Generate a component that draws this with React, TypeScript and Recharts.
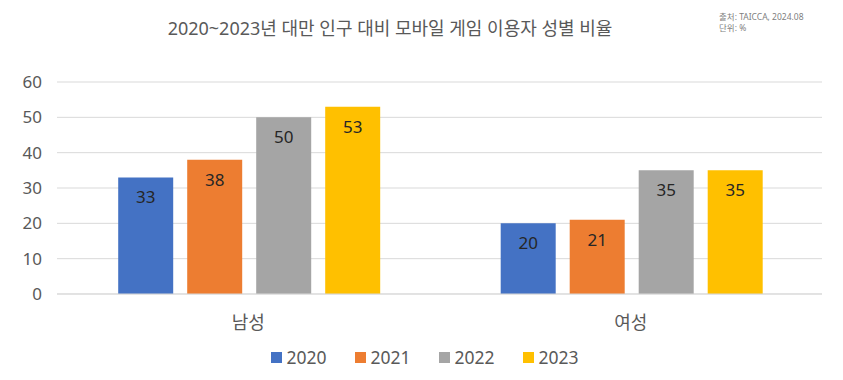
import { Bar, BarChart, CartesianGrid, LabelList, Legend, XAxis, YAxis } from "recharts";

const categories = ["남성", "여성"];
const years = ["2020", "2021", "2022", "2023"];
const v2020 = [33, 20];
const v2021 = [38, 21];
const v2022 = [50, 35];
const v2023 = [53, 35];
const yTicks = [0, 10, 20, 30, 40, 50, 60];

const COLORS = ["#4472C4", "#ED7D31", "#A5A5A5", "#FFC000"];
const FONT = "'Noto Sans', 'Noto Sans CJK KR', sans-serif";

const data = categories.map((name, i) => ({
  name,
  "2020": v2020[i],
  "2021": v2021[i],
  "2022": v2022[i],
  "2023": v2023[i],
}));

function LegendContent() {
  return (
    <div style={{ display: "flex", justifyContent: "center", marginLeft: 34 }}>
      {years.map((y, i) => (
        <div key={y} style={{ display: "flex", alignItems: "center", width: 84 }}>
          <span style={{ width: 11, height: 11, background: COLORS[i], marginRight: 5 }} />
          <span style={{ fontSize: 17.5, color: "#595959", fontFamily: FONT }}>{y}</span>
        </div>
      ))}
    </div>
  );
}

export default function App() {
  return (
    <div style={{ position: "absolute", left: 0, top: 0, width: 843, height: 380, background: "#fff", fontFamily: FONT }}>
      <div style={{ position: "absolute", top: 14, left: 0, width: 780, textAlign: "center", fontSize: 18, color: "#595959" }}>
        2020~2023년 대만 인구 대비 모바일 게임 이용자 성별 비율
      </div>
      <div style={{ position: "absolute", top: 11, left: 719, fontSize: 8.5, lineHeight: "11px", color: "#808080" }}>
        <div>출처: TAICCA, 2024.08</div>
        <div>단위: %</div>
      </div>
      <BarChart
        width={843}
        height={380}
        data={data}
        margin={{ top: 82, right: 21, left: 0, bottom: 0 }}
        barCategoryGap="16%"
        barGap={14}
      >
        <CartesianGrid vertical={false} stroke="#D9D9D9" />
        <XAxis
          dataKey="name"
          axisLine={{ stroke: "#D9D9D9" }}
          tickLine={false}
          tickSize={0}
          tickMargin={22}
          height={46}
          tick={{ fontSize: 18, fill: "#595959", fontFamily: FONT }}
        />
        <YAxis
          domain={[0, 60]}
          ticks={yTicks}
          axisLine={false}
          tickLine={false}
          tickSize={0}
          tickMargin={15}
          width={57}
          tick={{ fontSize: 17, fill: "#595959", fontFamily: FONT }}
        />
        <Legend verticalAlign="bottom" height={40} content={LegendContent} wrapperStyle={{ top: 345, left: 0, width: 843 }} />
        {years.map((y, i) => (
          <Bar key={y} dataKey={y} fill={COLORS[i]} isAnimationActive={false}>
            <LabelList dataKey={y} position="insideTop" offset={14} fill="#262626" fontSize={17} fontFamily={FONT} />
          </Bar>
        ))}
      </BarChart>
    </div>
  );
}
